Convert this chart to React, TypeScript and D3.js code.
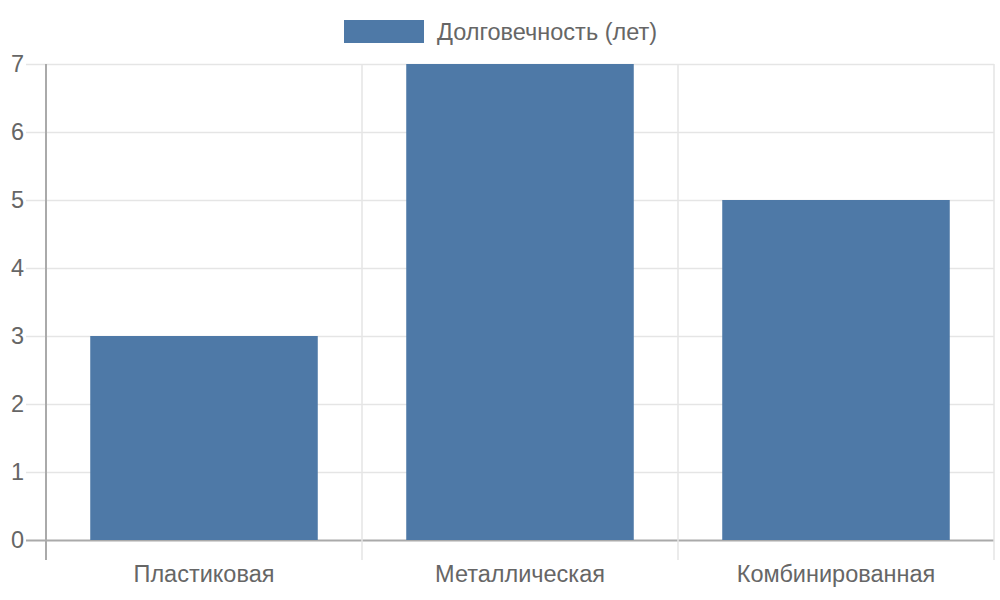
import React, { useEffect, useRef } from 'react';
import * as d3 from 'd3';

const categories = ['Пластиковая', 'Металлическая', 'Комбинированная'];
const durability = [3, 7, 5];
const yTicks = [0, 1, 2, 3, 4, 5, 6, 7];
const seriesLabel = 'Долговечность (лет)';

const App: React.FC = () => {
    const svgRef = useRef<SVGSVGElement>(null);

    useEffect(() => {
        if (!svgRef.current) return;
        const svg = d3.select(svgRef.current);
        svg.selectAll('*').remove();

        const width = 1000;
        const height = 600;
        const left = 46, right = 994, top = 64, bottom = 540;
        const font = 'Liberation Sans, Arial, sans-serif';
        const fontSize = 23.5;
        const textColor = '#666';
        const barColor = '#4e79a7';

        const x = d3.scaleBand().domain(categories).range([left, right]).paddingInner(0).paddingOuter(0);
        const y = d3.scaleLinear().domain([0, 7]).range([bottom, top]);

        // horizontal grid
        svg.append('g')
            .selectAll('line')
            .data(yTicks)
            .join('line')
            .attr('x1', left - 20)
            .attr('x2', right)
            .attr('y1', d => y(d) + 0.5)
            .attr('y2', d => y(d) + 0.5)
            .attr('stroke', d => d === 0 ? '#aaa' : '#e5e5e5')
            .attr('stroke-width', d => d === 0 ? 2 : 1.5);

        // vertical grid
        const xLines = categories.map(c => (x(c) as number) + x.bandwidth()).concat([left]);
        svg.append('g')
            .selectAll('line')
            .data(xLines)
            .join('line')
            .attr('x1', d => d)
            .attr('x2', d => d)
            .attr('y1', top)
            .attr('y2', bottom + 20)
            .attr('stroke', d => d === left ? '#aaa' : '#e5e5e5')
            .attr('stroke-width', d => d === left ? 2 : 1.5);

        // bars
        const barW = x.bandwidth() * 0.72;
        svg.append('g')
            .selectAll('rect')
            .data(durability)
            .join('rect')
            .attr('x', (_, i) => (x(categories[i]) as number) + (x.bandwidth() - barW) / 2)
            .attr('y', d => y(d))
            .attr('width', barW)
            .attr('height', d => y(0) - y(d))
            .attr('fill', barColor);

        // y tick labels
        svg.append('g')
            .selectAll('text')
            .data(yTicks)
            .join('text')
            .attr('x', left - 22)
            .attr('y', d => y(d))
            .attr('text-anchor', 'end')
            .attr('dominant-baseline', 'central')
            .attr('font-family', font)
            .attr('font-size', fontSize)
            .attr('fill', textColor)
            .text(d => d);

        // x tick labels
        svg.append('g')
            .selectAll('text')
            .data(categories)
            .join('text')
            .attr('x', d => (x(d) as number) + x.bandwidth() / 2)
            .attr('y', 574)
            .attr('text-anchor', 'middle')
            .attr('dominant-baseline', 'central')
            .attr('font-family', font)
            .attr('font-size', fontSize)
            .attr('fill', textColor)
            .text(d => d);

        // legend
        svg.append('rect')
            .attr('x', 344)
            .attr('y', 20)
            .attr('width', 80)
            .attr('height', 23)
            .attr('fill', barColor);
        svg.append('text')
            .attr('x', 437)
            .attr('y', 32)
            .attr('dominant-baseline', 'central')
            .attr('font-family', font)
            .attr('font-size', fontSize)
            .attr('fill', textColor)
            .text(seriesLabel);

        svg.attr('width', width).attr('height', height);
    }, []);

    return (
        <div style={{ position: 'absolute', left: 0, top: 0 }}>
            <svg ref={svgRef} width={1000} height={600} style={{ display: 'block' }} />
        </div>
    );
};

export default App;
